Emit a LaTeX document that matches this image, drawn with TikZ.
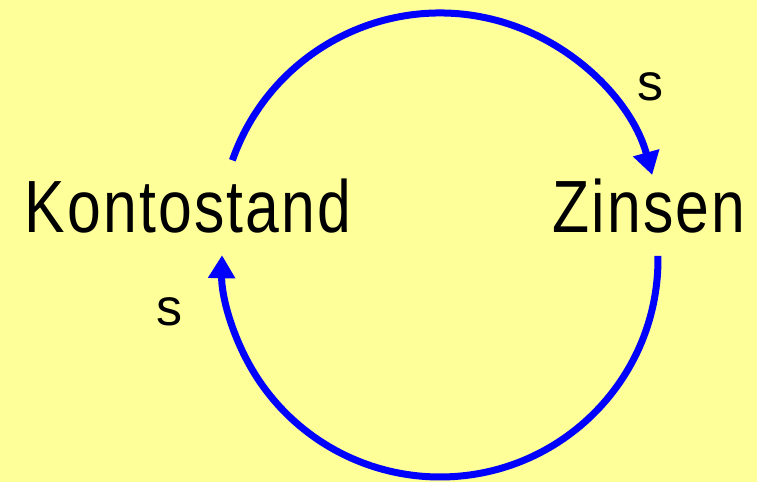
\documentclass[tikz,border=0pt]{standalone}
\usepackage{fontspec}
\setmainfont{Liberation Sans}
\newfontfamily\narrowfont[FakeStretch=0.82,LetterSpace=3]{Liberation Sans}
\usetikzlibrary{arrows.meta,calc}
\definecolor{bgyellow}{HTML}{FFFF99}
\definecolor{arcblue}{HTML}{0000FF}
\tikzset{
  bigword/.style={font=\narrowfont\fontsize{74}{74}\selectfont, inner sep=0pt, anchor=base},
  slabel/.style={font=\fontsize{52}{52}\selectfont, inner sep=0pt},
  loop/.style={draw=arcblue, line width=7pt, -{Triangle[length=23pt,width=26pt]}}
}
\begin{document}
\begin{tikzpicture}[x=1pt,y=1pt]
  \fill[bgyellow] (0,0) rectangle (757,482);
  \useasboundingbox (0,0) rectangle (757,482);
  \node[bigword] (konto) at (188,249) {Kontostand};
  \node[bigword] (zins) at (649,249) {Zinsen};
  \node[slabel] (s1) at (650,395) {s};
  \node[slabel] (s2) at (169,170) {s};
  \coordinate (tc) at (440,249);
  \coordinate (bc) at (440,223);
  \coordinate (ts) at ($(tc)+(160.7:220)$);
  \coordinate (bs) at ($(bc)+(0.8:218)$);
  \draw[loop] (ts) arc[start angle=160.7, end angle=15.3, radius=220];
  \draw[loop] (bs) arc[start angle=0.8, end angle=-181, radius=218];
\end{tikzpicture}
\end{document}
